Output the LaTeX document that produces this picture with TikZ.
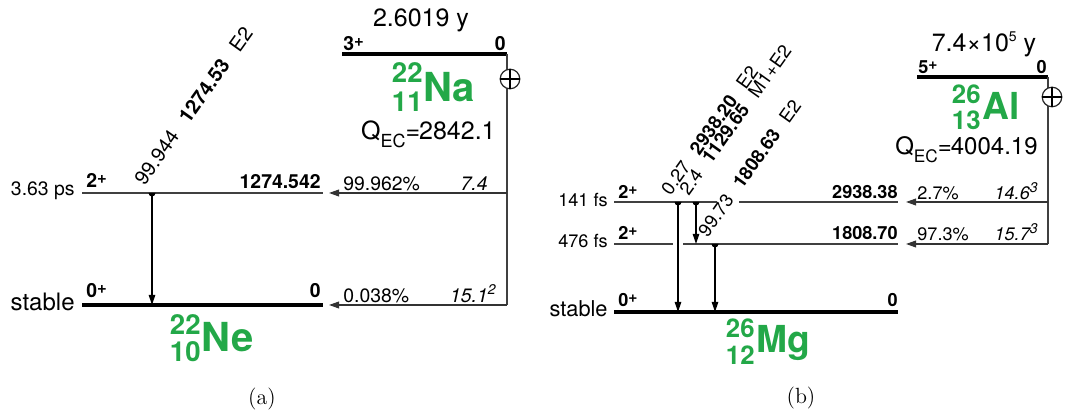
\documentclass[tikz,border=0pt]{standalone}
\usepackage{fontspec}
\newfontfamily\hv{TeX Gyre Heros}
\usetikzlibrary{arrows.meta}
\definecolor{nucgreen}{RGB}{35,168,72}
\newcommand{\jpar}[1]{#1\raisebox{2.3pt}{\fontsize{8.3}{9}\selectfont +}}
\newcommand{\jparb}[1]{#1\raisebox{2.1pt}{\fontsize{7.8}{9}\selectfont +}}
\newcommand{\supsc}[1]{\raisebox{.42em}{\fontsize{7}{8}\selectfont #1}}
\tikzset{
  sm/.style={font=\hv\fontsize{9.7}{11}\selectfont, inner sep=0pt},
  smb/.style={font=\hv\bfseries\fontsize{9.7}{11}\selectfont, inner sep=0pt},
  smi/.style={font=\hv\itshape\fontsize{9.7}{11}\selectfont, inner sep=0pt},
  stb/.style={font=\hv\fontsize{12}{14}\selectfont, inner sep=0pt},
  big/.style={font=\hv\fontsize{12.5}{14}\selectfont, inner sep=0pt},
  smB/.style={font=\hv\fontsize{9.05}{11}\selectfont, inner sep=0pt},
  smbB/.style={font=\hv\bfseries\fontsize{9.05}{11}\selectfont, inner sep=0pt},
  smiB/.style={font=\hv\itshape\fontsize{9.05}{11}\selectfont, inner sep=0pt},
  stbB/.style={font=\hv\fontsize{10.9}{13}\selectfont, inner sep=0pt},
  bigB/.style={font=\hv\fontsize{12}{14}\selectfont, inner sep=0pt},
  nucA/.style={font=\hv\bfseries\fontsize{13.8}{15}\selectfont, text=nucgreen, inner sep=0pt, anchor=base east},
  nucS/.style={font=\hv\bfseries\fontsize{20}{22}\selectfont, text=nucgreen, inner sep=0pt, anchor=base west},
  nucAB/.style={font=\hv\bfseries\fontsize{12.9}{15}\selectfont, text=nucgreen, inner sep=0pt, anchor=base east},
  nucSB/.style={font=\hv\bfseries\fontsize{18.6}{22}\selectfont, text=nucgreen, inner sep=0pt, anchor=base west},
  lvl/.style={draw=black!75, line width=0.6pt},
  gnd/.style={draw=black, line width=1.6pt},
  feed/.style={draw=black!75, line width=0.6pt},
  ecarrow/.style={draw=black!80, line width=0.6pt, -{Triangle[length=5pt,width=3.4pt]}},
  gam/.style={draw=black, line width=0.55pt, -{Triangle[length=5pt,width=3.2pt]}},
  glab/.style={font=\hv\fontsize{10}{11}\selectfont, inner sep=0pt, anchor=south west, rotate=54.5},
  glabB/.style={font=\hv\fontsize{9.3}{11}\selectfont, inner sep=0pt, anchor=south west, rotate=54.5},
  ecsym/.style={circle, draw=black!85, fill=white, line width=0.6pt, minimum size=9.8pt, inner sep=0pt},
  caplab/.style={font=\fontsize{11}{13}\selectfont, inner sep=0pt},
}
\begin{document}
\begin{tikzpicture}[x=0.5pt,y=-0.5pt]
\useasboundingbox (0,0) rectangle (1066,415);

% ================= (a) =================
\node[big, anchor=base] (hlA) at (421,27) {2.6019 y};
\coordinate (tA1) at (342,54); \coordinate (tA2) at (507,54);
\draw[gnd] (tA1) -- (tA2);
\node[smb, anchor=base west] (jtA) at (343,51) {\jpar{3}};
\node[smb, anchor=base east] (etA) at (506,51) {0};
\node[nucA] (naA) at (423,83) {22};
\node[nucA] (naZ) at (423,112) {11};
\node[nucS] (naS) at (423,102) {Na};
\node[big, anchor=base east] (qA) at (496,140) {Q\raisebox{-.3em}{\fontsize{9}{10}\selectfont EC}=\kern-.5pt 2842.1};

\coordinate (vA0) at (507,54); \coordinate (vA1) at (507,193); \coordinate (vA2) at (507,305);
\draw[feed] (vA0) -- (vA2);
\node[ecsym] (ecA) at (510,79) {};
\draw[line width=0.6pt] (ecA.west) -- (ecA.east) (ecA.north) -- (ecA.south);

% level 2+
\coordinate (l1A1) at (82,193); \coordinate (l1A2) at (323,193);
\draw[lvl] (l1A1) -- (l1A2);
\node[sm, anchor=base east] (tlA1) at (75,196) {3.63 ps};
\node[smb, anchor=base west] (jlA1) at (86,188) {\jpar{2}};
\node[smb, anchor=base east] (elA1) at (321,189) {1274.542};
\coordinate (arA1) at (329,193);
\draw[ecarrow] (vA1) -- (arA1);
\node[sm, anchor=base west] (brA1) at (343,191) {99.962\%};
\node[smi, anchor=base east] (lfA1) at (488,191) {7.4};

% ground
\coordinate (l0A1) at (82,305); \coordinate (l0A2) at (323,305);
\draw[gnd] (l0A1) -- (l0A2);
\node[stb, anchor=base east] (tlA0) at (75,311) {stable};
\node[smb, anchor=base west] (jlA0) at (86,298) {\jpar{0}};
\node[smb, anchor=base east] (elA0) at (321,298) {0};
\coordinate (arA0) at (329,305);
\draw[ecarrow] (vA2) -- (arA0);
\node[sm, anchor=base west] (brA0) at (343,303) {0.038\%};
\node[smi, anchor=base east] (lfA0) at (496,303) {15.1\supsc{2}};

% gamma
\coordinate (gA1) at (152,193); \coordinate (gA2) at (152,305);
\draw[gam] (gA1) -- (gA2);
\fill (gA1) ++(-1.75pt,0) arc[start angle=180,end angle=360,radius=1.75pt] -- cycle;
\node[glab] (glA) at (145,187) {99.944\hspace{.75em}\textbf{1274.53}\hspace{.75em}E2};

\node[nucA] (neA) at (201,335) {22};
\node[nucA] (neZ) at (201,362) {10};
\node[nucS] (neS) at (201,352) {Ne};

\node[caplab] (capA) at (262,399) {(a)};

% ================= (b) =================
\node[big, anchor=base] (hlB) at (984,52) {7.4×10\supsc{5} y};
\coordinate (tB1) at (917,77); \coordinate (tB2) at (1048,77);
\draw[gnd] (tB1) -- (tB2);
\node[smbB, anchor=base west] (jtB) at (918,74) {\jparb{5}};
\node[smbB, anchor=base east] (etB) at (1047,74) {0};
\node[nucAB] (alA) at (981,104) {26};
\node[nucAB] (alZ) at (981,130) {13};
\node[nucSB] (alS) at (982,120) {Al};
\node[bigB, anchor=base east] (qB) at (1038,155) {Q\raisebox{-.3em}{\fontsize{8.6}{10}\selectfont EC}=\kern-.5pt 4004.19};

\coordinate (vB0) at (1048,77); \coordinate (vB1) at (1048,202); \coordinate (vB2) at (1048,244);
\draw[feed] (vB0) -- (vB2);
\node[ecsym] (ecB) at (1052,97) {};
\draw[line width=0.6pt] (ecB.west) -- (ecB.east) (ecB.north) -- (ecB.south);

% level 2938.38
\coordinate (l2B1) at (614,202); \coordinate (l2Ba) at (717,202);
\coordinate (l2Bb) at (739,202); \coordinate (l2B2) at (898,202);
\draw[lvl] (l2B1) -- (l2Ba) (l2Bb) -- (l2B2);
\node[smB, anchor=base east] (tlB2) at (608,207) {141 fs};
\node[smbB, anchor=base west] (jlB2) at (618,199) {\jparb{2}};
\node[smbB, anchor=base east] (elB2) at (898,199) {2938.38};
\coordinate (arB2) at (906,202);
\draw[ecarrow] (vB1) -- (arB2);
\node[smB, anchor=base west] (brB2) at (917,200) {2.7\%};
\node[smiB, anchor=base east] (lfB2) at (1038,200) {14.6\supsc{3}};

% level 1808.70
\coordinate (l1B1) at (614,244); \coordinate (l1Ba) at (673,244);
\coordinate (l1Bb) at (683,244); \coordinate (l1B2) at (898,244);
\draw[lvl] (l1B1) -- (l1Ba) (l1Bb) -- (l1B2);
\node[smB, anchor=base east] (tlB1) at (608,248) {476 fs};
\node[smbB, anchor=base west] (jlB1) at (618,240) {\jparb{2}};
\node[smbB, anchor=base east] (elB1) at (898,240) {1808.70};
\coordinate (arB1) at (906,244);
\draw[ecarrow] (vB2) -- (arB1);
\node[smB, anchor=base west] (brB1) at (917,241) {97.3\%};
\node[smiB, anchor=base east] (lfB1) at (1038,241) {15.7\supsc{3}};

% ground
\coordinate (l0B1) at (614,312); \coordinate (l0B2) at (898,312);
\draw[gnd] (l0B1) -- (l0B2);
\node[stbB, anchor=base east] (tlB0) at (608,317) {stable};
\node[smbB, anchor=base west] (jlB0) at (618,307) {\jparb{0}};
\node[smbB, anchor=base east] (elB0) at (898,307) {0};

% gammas
\coordinate (gB1s) at (678,202); \coordinate (gB1e) at (678,312);
\coordinate (gB2s) at (696,202); \coordinate (gB2e) at (696,244);
\coordinate (gB3s) at (715,244); \coordinate (gB3e) at (715,312);
\draw[gam] (gB1s) -- (gB1e);
\draw[gam] (gB2s) -- (gB2e);
\draw[gam] (gB3s) -- (gB3e);
\fill (gB1s) ++(-1.75pt,0) arc[start angle=180,end angle=360,radius=1.75pt] -- cycle;
\fill (gB2s) ++(-1.75pt,0) arc[start angle=180,end angle=360,radius=1.75pt] -- cycle;
\fill (gB3s) ++(-1.75pt,0) arc[start angle=180,end angle=360,radius=1.75pt] -- cycle;
\node[glabB] (glB1) at (671,197) {0.27\hspace{.7em}\textbf{2938.20}\hspace{.7em}E2};
\node[glabB] (glB2) at (689,197) {2.4\hspace{.7em}\textbf{1129.65}\hspace{.7em}M1+E2};
\node[glabB] (glB3) at (708,239) {99.73\hspace{.7em}\textbf{1808.63}\hspace{.7em}E2};

\node[nucAB] (mgA) at (755,338) {26};
\node[nucAB] (mgZ) at (755,365) {12};
\node[nucSB] (mgS) at (756,353) {Mg};

\node[caplab] (capB) at (801,398) {(b)};
\end{tikzpicture}
\end{document}
